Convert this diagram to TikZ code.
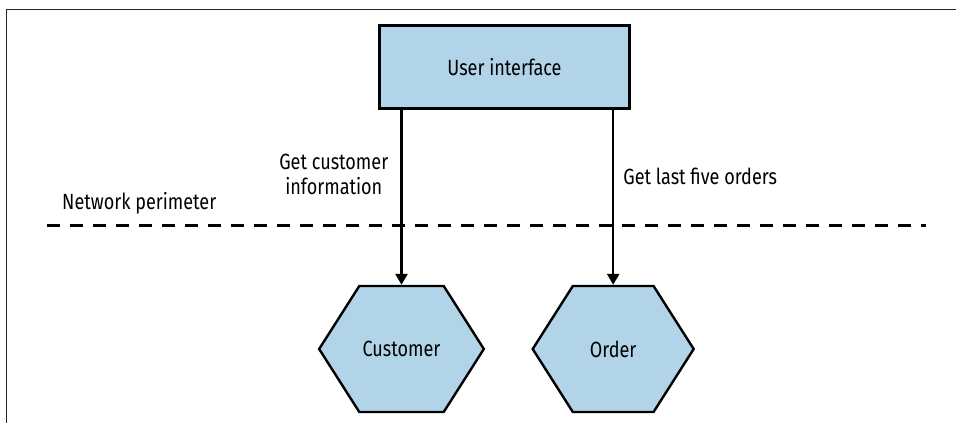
\documentclass[tikz,border=0pt]{standalone}
\usepackage{fontspec}
\setmainfont{Fira Sans}[FakeStretch=0.82]
\usetikzlibrary{shapes.symbols, arrows.meta, positioning}
\definecolor{svcBlue}{RGB}{177,212,232}
\tikzset{
    font=\fontsize{22}{25}\selectfont,
    >={Triangle[length=11pt, width=12pt]},
    % Shapes
    uibox/.style={rectangle, draw=black, line width=2.8pt, fill=svcBlue,
                  minimum width=250pt, minimum height=83pt, align=center},
    hexa/.style={signal, signal to=east and west, signal pointer angle=115,
                 draw=black, line width=2.4pt, fill=svcBlue,
                 minimum width=161pt, minimum height=126pt, align=center},
    % Flow & Labels
    flow/.style={->, line width=2.5pt, black},
    lbl/.style={inner sep=0pt, align=center},
    perimeter/.style={dash pattern=on 13pt off 10pt, line width=3pt, black},
    frameline/.style={line width=1pt, black!85}
}

\begin{document}
\begin{tikzpicture}[x=1pt, y=1pt, node distance=46pt]
\useasboundingbox (0,0) rectangle (956,-423);

% frame
\coordinate (frmBL) at (6,-423);
\coordinate (frmTL) at (6,-9);
\coordinate (frmTR) at (956,-9);
\draw[frameline] (frmBL) -- (frmTL) -- (frmTR);

\node[uibox] (ui) at (504.5,-67) {User interface};
\node[hexa] (cust) at (401.5,-349) {Customer};
\node[hexa, right=of cust] (ord) {Order};

% network perimeter
\coordinate (netL) at (47,-225);
\coordinate (netR) at (926,-225);
\draw[perimeter] (netL) -- (netR);
\node[lbl, anchor=south west] (netlbl) at (62,-214) {Network perimeter};

\draw[flow] (cust.north |- ui.south) -- node[lbl, pos=0.37, left=12pt] {Get customer\\information} (cust.north);
\draw[flow] (ord.north |- ui.south) -- node[lbl, pos=0.38, right=9pt] {Get last five orders} (ord.north);

\end{tikzpicture}
\end{document}
